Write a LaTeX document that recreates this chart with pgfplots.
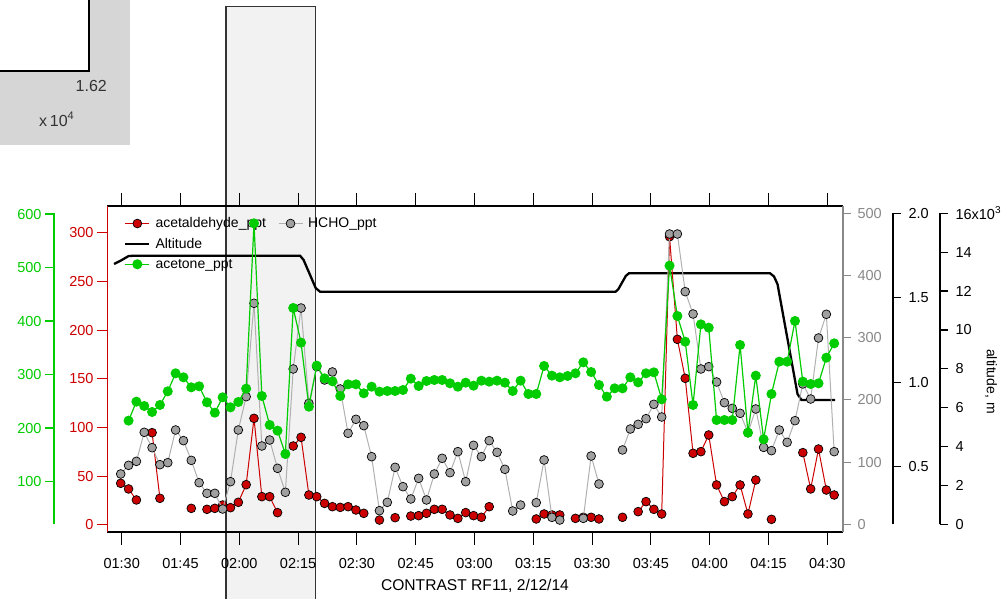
\documentclass[border=0pt]{standalone}
\usepackage{pgfplots}
\pgfplotsset{compat=1.18}
\usepackage{fontspec}
\setmainfont{Liberation Sans}
\definecolor{cred}{RGB}{204,0,0}
\definecolor{cgreen}{RGB}{0,204,0}
\definecolor{cgrayline}{RGB}{176,176,176}
\definecolor{cgraymark}{RGB}{160,160,160}
\definecolor{cgrayaxis}{RGB}{136,136,136}
\definecolor{shade}{RGB}{242,242,242}
\definecolor{boxgray}{RGB}{214,214,214}
\pgfplotsset{
  frame/.style={scale only axis, width=736pt, height=326pt, at={(107pt,66pt)}, anchor=south west,
    xmin=86.25, xmax=274.0, unbounded coords=jump,
    /pgf/number format/assume math mode=true,
    tick label style={font=\fontsize{14.5pt}{16pt}\selectfont}},
  extra/.style={scale only axis, width=1pt, height=311pt, xmin=0, xmax=1, axis x line=none,
    tick align=outside, scaled y ticks=false, /pgf/number format/assume math mode=true,
    tick label style={font=\fontsize{14.5pt}{16pt}\selectfont}},
  redstyle/.style={cred, line width=1pt, mark=*, mark size=4.4pt, mark options={solid, fill=cred, draw=black, line width=0.7pt}},
  graystyle/.style={cgrayline, line width=1pt, mark=*, mark size=4.4pt, mark options={solid, fill=cgraymark, draw=black, line width=0.7pt}},
  greenstyle/.style={cgreen, line width=1.2pt, mark=*, mark size=4.4pt, mark options={solid, fill=cgreen, draw=cgreen}},
  altstyle/.style={black, line width=2.3pt},
}
\pgfplotstableread{
t v
89.75 42.8
91.75 37.0
93.75 25.7
95.75 nan
97.75 94.8
99.75 27.4
101.75 nan
107.75 17.1
109.75 nan
111.75 16.1
113.75 17.1
115.75 20.5
117.75 17.8
119.75 23.3
121.75 41.4
123.75 109.5
125.75 29.1
127.75 29.1
129.75 12.7
131.75 nan
133.75 81.1
135.75 90.0
137.75 30.8
139.75 29.1
141.75 22.2
143.75 18.8
145.75 18.1
147.75 18.8
149.75 15.4
151.75 12.0
153.75 nan
155.75 5.1
157.75 nan
159.75 7.5
161.75 nan
163.75 9.2
165.75 9.6
167.75 12.0
169.75 16.1
171.75 16.1
173.75 10.3
175.75 6.8
177.75 12.7
179.75 9.6
181.75 7.9
183.75 18.8
185.75 nan
195.75 6.2
197.75 11.3
199.75 10.3
201.75 10.3
203.75 nan
205.75 6.8
207.75 7.9
209.75 7.9
211.75 6.2
213.75 nan
217.75 7.9
219.75 nan
221.75 13.7
223.75 24.0
225.75 16.1
227.75 11.3
229.75 296.0
231.75 190.6
233.75 150.6
235.75 73.6
237.75 75.3
239.75 92.4
241.75 41.1
243.75 24.0
245.75 29.1
247.75 41.1
249.75 11.3
251.75 46.2
253.75 nan
255.75 5.8
257.75 nan
263.75 74.3
265.75 37.0
267.75 78.0
269.75 35.9
271.75 30.8
}\redtab
\pgfplotstableread{
t v
89.75 80.9
91.75 94.8
93.75 101.2
95.75 147.9
97.75 123.2
99.75 95.9
101.75 99.1
103.75 151.6
105.75 134.5
107.75 102.8
109.75 66.9
111.75 49.8
113.75 49.8
115.75 24.6
117.75 68.5
119.75 151.6
121.75 205.2
123.75 355.3
125.75 125.9
127.75 135.5
129.75 90.0
131.75 51.4
133.75 249.7
135.75 347.7
137.75 194.5
139.75 253.4
141.75 232.0
143.75 244.9
145.75 217.5
147.75 146.3
149.75 168.8
151.75 158.6
153.75 108.7
155.75 21.9
157.75 35.3
159.75 91.6
161.75 60.5
163.75 40.7
165.75 73.9
167.75 39.1
169.75 80.9
171.75 106.1
173.75 83.0
175.75 116.8
177.75 68.5
179.75 127.0
181.75 108.7
183.75 134.5
185.75 115.7
187.75 88.4
189.75 21.4
191.75 31.0
193.75 nan
195.75 34.8
197.75 103.4
199.75 11.2
201.75 6.9
203.75 nan
207.75 9.6
209.75 109.8
211.75 64.8
213.75 nan
217.75 119.5
219.75 153.2
221.75 160.7
223.75 169.8
225.75 192.9
227.75 172.5
229.75 466.7
231.75 466.7
233.75 374.0
235.75 338.1
237.75 249.7
239.75 253.4
241.75 228.8
243.75 195.5
245.75 186.4
247.75 178.4
249.75 147.3
251.75 185.4
253.75 123.7
255.75 118.4
257.75 151.6
259.75 131.8
261.75 166.6
263.75 225.6
265.75 201.4
267.75 299.5
269.75 337.6
271.75 116.8
}\graytab
\pgfplotstableread{
t v
91.75 214.1
93.75 249.6
95.75 241.5
97.75 230.3
99.75 243.4
101.75 268.9
103.75 302.6
105.75 295.1
107.75 276.4
109.75 278.3
111.75 248.4
113.75 229.0
115.75 257.7
117.75 239.0
119.75 249.0
121.75 273.9
123.75 582.9
125.75 260.2
127.75 206.0
129.75 195.4
131.75 151.8
133.75 424.7
135.75 359.9
137.75 240.2
139.75 316.9
141.75 293.2
143.75 287.6
145.75 260.2
147.75 282.0
149.75 282.0
151.75 265.2
153.75 277.6
155.75 268.3
157.75 269.5
159.75 269.5
161.75 271.4
163.75 292.6
165.75 278.9
167.75 288.2
169.75 290.1
171.75 290.1
173.75 283.9
175.75 277.6
177.75 285.1
179.75 279.5
181.75 288.8
183.75 287.0
185.75 288.8
187.75 285.1
189.75 269.5
191.75 288.8
193.75 263.9
195.75 263.9
197.75 316.3
199.75 298.2
201.75 295.1
203.75 297.6
205.75 302.6
207.75 323.1
209.75 305.0
211.75 280.7
213.75 258.9
215.75 274.5
217.75 274.5
219.75 295.1
221.75 285.7
223.75 302.6
225.75 304.4
227.75 254.0
229.75 503.8
231.75 409.7
233.75 361.7
235.75 243.4
237.75 394.1
239.75 387.9
241.75 215.3
243.75 215.3
245.75 215.3
247.75 355.5
249.75 191.6
251.75 298.2
253.75 179.2
255.75 263.9
257.75 324.4
259.75 324.4
261.75 400.4
263.75 287.0
265.75 282.6
267.75 283.9
269.75 331.8
271.75 358.6
}\greentab
\pgfplotstableread{
t v
88.04 13392
89.57 13546
91.79 13803
93.5 13819
135.5 13819
136.4 13600
139.5 12150
140.6 11967
216.0 11967
216.7 12100
218.6 12780
219.4 12913
255.4 12913
256.4 12750
257.3 12350
262.4 6700
263.4 6395
272.0 6395
}\alttab
\begin{document}
\begin{tikzpicture}[x=1pt,y=1pt]
\path[use as bounding box] (0,0) rectangle (1004,598);
% top-left inset remnant
\fill[boxgray] (0,453) rectangle (130,598);
\fill[white] (0,527) rectangle (89,598);
\draw[black, line width=1.3pt] (89,598) -- (89,527) -- (0,527);
\node[anchor=east, text=black!80, font=\fontsize{16pt}{18pt}\selectfont, inner sep=0pt] at (107,512) {1.62};
\node[anchor=west, text=black!80, font=\fontsize{16pt}{18pt}\selectfont, inner sep=0pt] at (39,479) {x\,10\raisebox{7pt}{\fontsize{11pt}{11pt}\selectfont 4}};
% shaded time window
\filldraw[fill=shade, draw=black!80, line width=1.2pt] (226,-5) rectangle (315.3,591.3);
% x frame
\begin{axis}[frame, ymin=0, ymax=1, axis y line=none, axis x line*=box,
  x axis line style={line width=1.3pt},
  xtick={90,105,...,270},
  xticklabels={01:30,01:45,02:00,02:15,02:30,02:45,03:00,03:15,03:30,03:45,04:00,04:15,04:30},
  xticklabel style={yshift=-10pt},
  tick align=outside, major tick length=13pt, xtick style={line width=1pt, black}]
\addplot[draw=none] coordinates {(100,0.5)};
\end{axis}
% altitude + legend
\begin{axis}[frame, ymin=-396.1, ymax=16376, hide axis,
  legend columns=2, legend cell align=left,
  legend image code/.code={\draw[mark repeat=2,mark phase=2,#1] plot coordinates {(0pt,0pt) (12pt,0pt) (24pt,0pt)};},
  legend style={at={(0,1)}, anchor=north west, xshift=17pt, yshift=-9.5pt, draw=none, fill=none,
    font=\fontsize{14pt}{16pt}\selectfont, inner sep=0pt, row sep=5pt, nodes={inner sep=2pt},
    /tikz/every odd column/.append style={column sep=3pt},
    /tikz/every even column/.append style={column sep=10pt}}]
\addlegendimage{redstyle}
\addlegendentry{acetaldehyde\_ppt}
\addlegendimage{graystyle}
\addlegendentry{HCHO\_ppt}
\addplot[altstyle] table[x=t,y=v] {\alttab};
\addlegendentry{Altitude}
\addlegendimage{empty legend}
\addlegendentry{}
\addlegendimage{greenstyle}
\addlegendentry{acetone\_ppt}
\end{axis}
% red acetaldehyde
\begin{axis}[frame, ymin=-7.19, ymax=327.5, axis x line=none, axis y line*=left,
  y axis line style={cred, line width=1pt}, ytick={0,50,...,300}, tick align=outside,
  major tick length=10pt, ytick style={cred, line width=1pt}, yticklabel style={text=cred}]
\addplot[redstyle] table[x=t,y=v] {\redtab};
\end{axis}
% gray HCHO
\begin{axis}[frame, ymin=-12.38, ymax=511.7, axis x line=none, axis y line*=right,
  y axis line style={cgrayaxis, line width=1.3pt}, ytick={0,100,...,500}, tick align=outside,
  major tick length=8pt, ytick style={cgrayaxis, line width=1pt},
  yticklabel style={text=cgrayaxis, xshift=3pt}]
\addplot[graystyle] table[x=t,y=v] {\graytab};
\end{axis}
% green acetone
\begin{axis}[frame, ymin=5.98, ymax=615.3, hide axis]
\addplot[greenstyle] table[x=t,y=v] {\greentab};
\end{axis}
% green axis
\begin{axis}[extra, at={(54pt,73.7pt)}, anchor=south west, ymin=20.4, ymax=601.7,
  axis y line*=left, y axis line style={cgreen, line width=1.5pt}, ytick={100,200,...,600},
  major tick length=9pt, ytick style={cgreen, line width=1.5pt}, yticklabel style={text=cgreen}]
\addplot[draw=none] coordinates {(0.5,300)};
\end{axis}
% middle black axis
\begin{axis}[extra, at={(893pt,73.7pt)}, anchor=south east, ymin=0.159, ymax=2.0,
  axis y line*=right, y axis line style={black, line width=1.3pt}, ytick={0.5,1.0,1.5,2.0},
  major tick length=8pt, ytick style={black, line width=1.2pt},
  yticklabel style={xshift=4pt, /pgf/number format/.cd, fixed, fixed zerofill, precision=1}]
\addplot[draw=none] coordinates {(0.5,1)};
\end{axis}
% rightmost altitude axis
\begin{axis}[extra, at={(940pt,73.7pt)}, anchor=south east, ymin=0, ymax=16000,
  axis y line*=right, y axis line style={black, line width=1.3pt}, ytick={0,2000,...,16000},
  yticklabels={0,2,4,6,8,10,12,14,{16x10\raisebox{6pt}{\fontsize{10pt}{10pt}\selectfont 3}}},
  yticklabel style={xshift=4pt},
  major tick length=8pt, ytick style={black, line width=1.2pt}]
\addplot[draw=none] coordinates {(0.5,8000)};
\end{axis}
\node[rotate=-90, font=\fontsize{14pt}{16pt}\selectfont] at (991,216.5) {altitude, m};
\node[font=\fontsize{15.6pt}{17pt}\selectfont] at (475,12) {CONTRAST RF11, 2/12/14};
\end{tikzpicture}
\end{document}
